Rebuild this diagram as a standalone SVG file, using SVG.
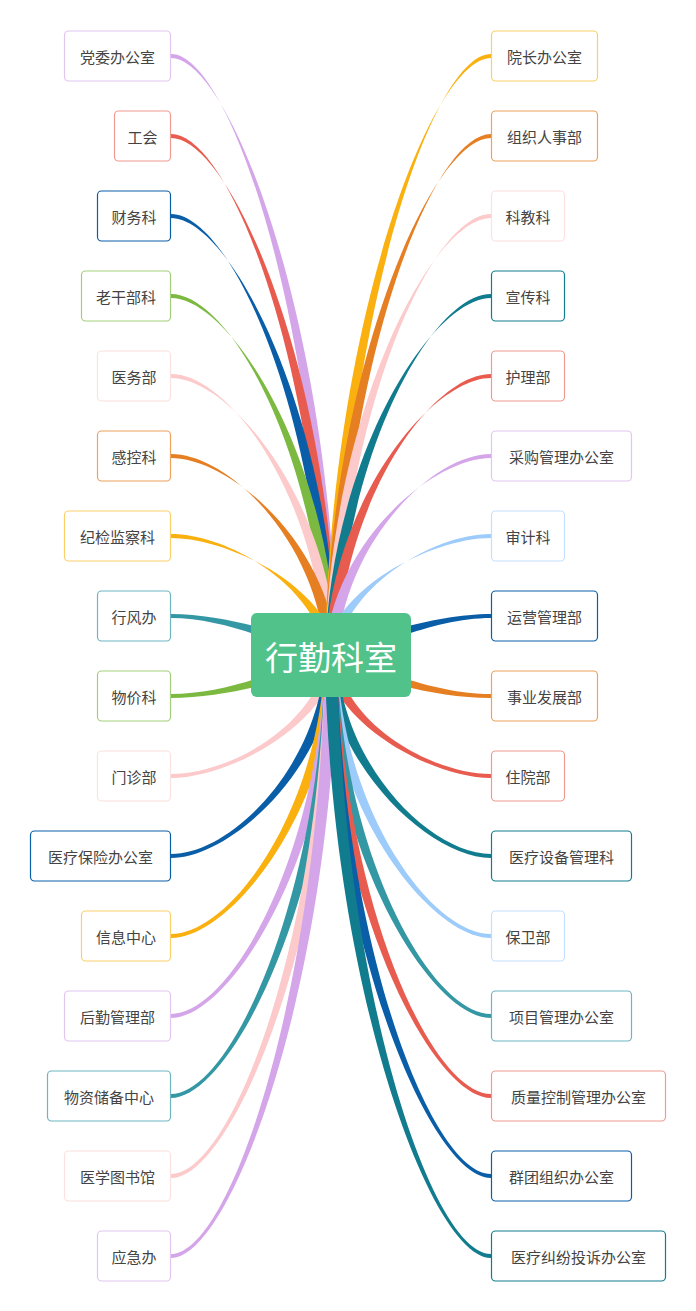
<svg xmlns="http://www.w3.org/2000/svg" width="696" height="1311" viewBox="0 0 696 1311">
<style>
text{font-family:"Noto Sans CJK SC","Noto Sans",sans-serif;font-size:15px;fill:#444;text-anchor:middle;dominant-baseline:central}
.n rect{fill:#fff;stroke-width:1.2}
#root text{fill:#fff;font-size:33px}
</style>
<rect width="696" height="1311" fill="#fff"/>
<g id="connectors">
<path d="M171,54 C231,54 320,326 325,656 L337,656 C332,326 231,58 171,58 Z" fill="#d4a5e8"/>
<path d="M171,134 C231,134 320,370 325,656 L337,656 C332,370 231,138 171,138 Z" fill="#e85c4f"/>
<path d="M171,214 C231,214 320,414 325,656 L337,656 C332,414 231,218 171,218 Z" fill="#0a5ea8"/>
<path d="M171,294 C231,294 320,458 325,656 L337,656 C332,458 231,298 171,298 Z" fill="#7cb940"/>
<path d="M171,374 C231,374 320,502 325,656 L337,656 C332,502 231,378 171,378 Z" fill="#fccaca"/>
<path d="M171,454 C231,454 320,546 325,656 L337,656 C332,546 231,458 171,458 Z" fill="#e67e22"/>
<path d="M171,534 C231,534 320,590 325,656 L337,656 C332,590 231,538 171,538 Z" fill="#fab10f"/>
<path d="M171,614 C231,614 300,640 326,648 L326,664 C300,652 231,618 171,618 Z" fill="#3497a4"/>
<path d="M171,694 C231,694 300,664 326,648 L326,664 C300,676 231,698 171,698 Z" fill="#7cb940"/>
<path d="M171,774 C231,774 320,722 325,656 L337,656 C332,722 231,778 171,778 Z" fill="#fccaca"/>
<path d="M171,854 C231,854 320,766 325,656 L337,656 C332,766 231,858 171,858 Z" fill="#0a5ea8"/>
<path d="M171,934 C231,934 320,810 325,656 L337,656 C332,810 231,938 171,938 Z" fill="#fab10f"/>
<path d="M171,1014 C231,1014 320,854 325,656 L337,656 C332,854 231,1018 171,1018 Z" fill="#d4a5e8"/>
<path d="M171,1094 C231,1094 320,898 325,656 L337,656 C332,898 231,1098 171,1098 Z" fill="#3497a4"/>
<path d="M171,1174 C231,1174 320,942 325,656 L337,656 C332,942 231,1178 171,1178 Z" fill="#fccaca"/>
<path d="M171,1254 C231,1254 320,986 325,656 L337,656 C332,986 231,1258 171,1258 Z" fill="#d4a5e8"/>
<path d="M491,54 C431,54 342,326 337,656 L325,656 C330,326 431,58 491,58 Z" fill="#fab10f"/>
<path d="M491,134 C431,134 342,370 337,656 L325,656 C330,370 431,138 491,138 Z" fill="#e67e22"/>
<path d="M491,214 C431,214 342,414 337,656 L325,656 C330,414 431,218 491,218 Z" fill="#fccaca"/>
<path d="M491,294 C431,294 342,458 337,656 L325,656 C330,458 431,298 491,298 Z" fill="#127c8f"/>
<path d="M491,374 C431,374 342,502 337,656 L325,656 C330,502 431,378 491,378 Z" fill="#e85c4f"/>
<path d="M491,454 C431,454 342,546 337,656 L325,656 C330,546 431,458 491,458 Z" fill="#d4a5e8"/>
<path d="M491,534 C431,534 342,590 337,656 L325,656 C330,590 431,538 491,538 Z" fill="#9dcbfa"/>
<path d="M491,614 C431,614 362,640 336,648 L336,664 C362,652 431,618 491,618 Z" fill="#0a5ea8"/>
<path d="M491,694 C431,694 362,664 336,648 L336,664 C362,676 431,698 491,698 Z" fill="#e67e22"/>
<path d="M491,774 C431,774 342,722 337,656 L325,656 C330,722 431,778 491,778 Z" fill="#e85c4f"/>
<path d="M491,854 C431,854 342,766 337,656 L325,656 C330,766 431,858 491,858 Z" fill="#127c8f"/>
<path d="M491,934 C431,934 342,810 337,656 L325,656 C330,810 431,938 491,938 Z" fill="#9dcbfa"/>
<path d="M491,1014 C431,1014 342,854 337,656 L325,656 C330,854 431,1018 491,1018 Z" fill="#3497a4"/>
<path d="M491,1094 C431,1094 342,898 337,656 L325,656 C330,898 431,1098 491,1098 Z" fill="#e85c4f"/>
<path d="M491,1174 C431,1174 342,942 337,656 L325,656 C330,942 431,1178 491,1178 Z" fill="#0a5ea8"/>
<path d="M491,1254 C431,1254 342,986 337,656 L325,656 C330,986 431,1258 491,1258 Z" fill="#127c8f"/>
</g>
<g id="root"><rect x="251" y="613" width="160" height="84" rx="6" fill="#50c28a"/><text x="331" y="656">行勤科室</text></g>
<g class="n" id="l1"><rect x="64.5" y="31" width="106" height="50" rx="4" stroke="#e2c6f0"/><text x="117.5" y="56">党委办公室</text></g>
<g class="n" id="l2"><rect x="114.5" y="111" width="56" height="50" rx="4" stroke="#f09a92"/><text x="142.5" y="136">工会</text></g>
<g class="n" id="l3"><rect x="97.5" y="191" width="73" height="50" rx="4" stroke="#0a5ea8"/><text x="134" y="216">财务科</text></g>
<g class="n" id="l4"><rect x="81.5" y="271" width="89" height="50" rx="4" stroke="#a3cf7a"/><text x="126" y="296">老干部科</text></g>
<g class="n" id="l5"><rect x="97.5" y="351" width="73" height="50" rx="4" stroke="#fde0e0"/><text x="134" y="376">医务部</text></g>
<g class="n" id="l6"><rect x="97.5" y="431" width="73" height="50" rx="4" stroke="#eea25c"/><text x="134" y="456">感控科</text></g>
<g class="n" id="l7"><rect x="64.5" y="511" width="106" height="50" rx="4" stroke="#fbd06a"/><text x="117.5" y="536">纪检监察科</text></g>
<g class="n" id="l8"><rect x="97.5" y="591" width="73" height="50" rx="4" stroke="#6db5bf"/><text x="134" y="616">行风办</text></g>
<g class="n" id="l9"><rect x="97.5" y="671" width="73" height="50" rx="4" stroke="#a3cf7a"/><text x="134" y="696">物价科</text></g>
<g class="n" id="l10"><rect x="97.5" y="751" width="73" height="50" rx="4" stroke="#fde0e0"/><text x="134" y="776">门诊部</text></g>
<g class="n" id="l11"><rect x="30.5" y="831" width="140" height="50" rx="4" stroke="#0a5ea8"/><text x="100.5" y="856">医疗保险办公室</text></g>
<g class="n" id="l12"><rect x="81.5" y="911" width="89" height="50" rx="4" stroke="#fbd06a"/><text x="126" y="936">信息中心</text></g>
<g class="n" id="l13"><rect x="64.5" y="991" width="106" height="50" rx="4" stroke="#e2c6f0"/><text x="117.5" y="1016">后勤管理部</text></g>
<g class="n" id="l14"><rect x="47.5" y="1071" width="123" height="50" rx="4" stroke="#6db5bf"/><text x="109" y="1096">物资储备中心</text></g>
<g class="n" id="l15"><rect x="64.5" y="1151" width="106" height="50" rx="4" stroke="#fde0e0"/><text x="117.5" y="1176">医学图书馆</text></g>
<g class="n" id="l16"><rect x="97.5" y="1231" width="73" height="50" rx="4" stroke="#e2c6f0"/><text x="134" y="1256">应急办</text></g>
<g class="n" id="r1"><rect x="491.5" y="31" width="106" height="50" rx="4" stroke="#fbd06a"/><text x="544.5" y="56">院长办公室</text></g>
<g class="n" id="r2"><rect x="491.5" y="111" width="106" height="50" rx="4" stroke="#eea25c"/><text x="544.5" y="136">组织人事部</text></g>
<g class="n" id="r3"><rect x="491.5" y="191" width="73" height="50" rx="4" stroke="#fde0e0"/><text x="528" y="216">科教科</text></g>
<g class="n" id="r4"><rect x="491.5" y="271" width="73" height="50" rx="4" stroke="#127c8f"/><text x="528" y="296">宣传科</text></g>
<g class="n" id="r5"><rect x="491.5" y="351" width="73" height="50" rx="4" stroke="#f09a92"/><text x="528" y="376">护理部</text></g>
<g class="n" id="r6"><rect x="491.5" y="431" width="140" height="50" rx="4" stroke="#e2c6f0"/><text x="561.5" y="456">采购管理办公室</text></g>
<g class="n" id="r7"><rect x="491.5" y="511" width="73" height="50" rx="4" stroke="#c4e0fc"/><text x="528" y="536">审计科</text></g>
<g class="n" id="r8"><rect x="491.5" y="591" width="106" height="50" rx="4" stroke="#0a5ea8"/><text x="544.5" y="616">运营管理部</text></g>
<g class="n" id="r9"><rect x="491.5" y="671" width="106" height="50" rx="4" stroke="#eea25c"/><text x="544.5" y="696">事业发展部</text></g>
<g class="n" id="r10"><rect x="491.5" y="751" width="73" height="50" rx="4" stroke="#f09a92"/><text x="528" y="776">住院部</text></g>
<g class="n" id="r11"><rect x="491.5" y="831" width="140" height="50" rx="4" stroke="#127c8f"/><text x="561.5" y="856">医疗设备管理科</text></g>
<g class="n" id="r12"><rect x="491.5" y="911" width="73" height="50" rx="4" stroke="#c4e0fc"/><text x="528" y="936">保卫部</text></g>
<g class="n" id="r13"><rect x="491.5" y="991" width="140" height="50" rx="4" stroke="#6db5bf"/><text x="561.5" y="1016">项目管理办公室</text></g>
<g class="n" id="r14"><rect x="491.5" y="1071" width="174" height="50" rx="4" stroke="#f09a92"/><text x="578.5" y="1096">质量控制管理办公室</text></g>
<g class="n" id="r15"><rect x="491.5" y="1151" width="140" height="50" rx="4" stroke="#0a5ea8"/><text x="561.5" y="1176">群团组织办公室</text></g>
<g class="n" id="r16"><rect x="491.5" y="1231" width="174" height="50" rx="4" stroke="#127c8f"/><text x="578.5" y="1256">医疗纠纷投诉办公室</text></g>
</svg>
